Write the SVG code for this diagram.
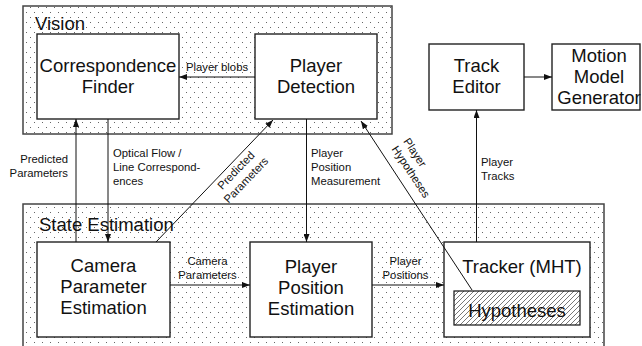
<svg xmlns="http://www.w3.org/2000/svg" width="642" height="346" viewBox="0 0 642 346">
  <defs>
    <!-- stippled fill for the two subsystem frames -->
    <pattern id="dots" width="8" height="10" patternUnits="userSpaceOnUse">
      <rect x="2" y="2" width="1" height="1" fill="#666"/>
      <rect x="6" y="7" width="1" height="1" fill="#666"/>
    </pattern>
    <!-- diagonal hatching for the hypotheses store -->
    <pattern id="hatch" width="5" height="5" patternUnits="userSpaceOnUse">
      <rect width="5" height="5" fill="#fff"/>
      <path d="M-1,1 L1,-1 M0,5 L5,0 M4,6 L6,4" stroke="#555" stroke-width="0.8"/>
    </pattern>
    <marker id="arrow" markerWidth="8" markerHeight="6" refX="8" refY="3" orient="auto" markerUnits="userSpaceOnUse">
      <path d="M0,0 L8,3 L0,6 z" fill="#111"/>
    </marker>
    <style>
      .frame { fill: url(#dots); stroke: #444; stroke-width: 1.5; }
      .box { fill: #fff; stroke: #222; stroke-width: 1.4; }
      .big { font-family: "Liberation Sans", Arial, sans-serif; font-size: 18.5px; fill: #111; }
      .mid { text-anchor: middle; }
      .small { font-family: "Liberation Sans", Arial, sans-serif; font-size: 11.3px; fill: #111; }
      .end { text-anchor: end; }
      .conn { stroke: #111; stroke-width: 1; fill: none; }
      .arr { marker-end: url(#arrow); }
    </style>
  </defs>

  <rect width="642" height="346" fill="#fff"/>

  <!-- subsystem frames -->
  <g id="vision">
    <rect class="frame" x="23" y="6" width="369" height="128"/>
    <text class="big" x="35" y="30">Vision</text>
  </g>
  <g id="state-estimation">
    <rect class="frame" x="23" y="204" width="581" height="160"/>
    <text class="big" x="39" y="231">State Estimation</text>
  </g>

  <!-- nodes -->
  <g id="correspondence-finder">
    <rect class="box" x="37" y="34" width="142" height="85"/>
    <text class="big mid" x="108" y="72">Correspondence</text>
    <text class="big mid" x="108" y="93">Finder</text>
  </g>
  <g id="player-detection">
    <rect class="box" x="255" y="34" width="122" height="85"/>
    <text class="big mid" x="316" y="72">Player</text>
    <text class="big mid" x="316" y="93">Detection</text>
  </g>
  <g id="track-editor">
    <rect class="box" x="429" y="44" width="95" height="66"/>
    <text class="big mid" x="476.5" y="72">Track</text>
    <text class="big mid" x="476.5" y="93">Editor</text>
  </g>
  <g id="motion-model-generator">
    <rect class="box" x="552" y="44" width="88" height="66"/>
    <text class="big mid" x="599" y="62">Motion</text>
    <text class="big mid" x="599" y="83">Model</text>
    <text class="big mid" x="599" y="104">Generator</text>
  </g>
  <g id="camera-parameter-estimation">
    <rect class="box" x="37" y="242" width="133" height="95"/>
    <text class="big mid" x="103.5" y="272">Camera</text>
    <text class="big mid" x="103.5" y="293">Parameter</text>
    <text class="big mid" x="103.5" y="314">Estimation</text>
  </g>
  <g id="player-position-estimation">
    <rect class="box" x="250" y="242" width="122" height="95"/>
    <text class="big mid" x="311" y="273">Player</text>
    <text class="big mid" x="311" y="294">Position</text>
    <text class="big mid" x="311" y="315">Estimation</text>
  </g>
  <g id="tracker">
    <rect class="box" x="444" y="242" width="146" height="95"/>
    <text class="big mid" x="522" y="273">Tracker (MHT)</text>
  </g>
  <g id="hypotheses">
    <rect x="454" y="291" width="126" height="34" fill="url(#hatch)" stroke="#111" stroke-width="1.2"/>
    <text class="big mid" x="517" y="317">Hypotheses</text>
  </g>

  <!-- connectors -->
  <g id="connectors">
    <path class="conn arr" d="M255,77 L179,77"/>
    <path class="conn arr" d="M76,242 L76,119"/>
    <path class="conn arr" d="M108,119 L108,242"/>
    <path class="conn arr" d="M156,242 L273,120"/>
    <path class="conn arr" d="M306.5,119 L306.5,242"/>
    <path class="conn arr" d="M472,290 L361,121"/>
    <path class="conn arr" d="M476.5,242 L476.5,110"/>
    <path class="conn arr" d="M524,77 L552,77"/>
    <path class="conn arr" d="M170,285 L250,285"/>
    <path class="conn arr" d="M372,285 L444,285"/>

    <text class="small mid" x="217" y="71">Player blobs</text>

    <text class="small end" x="68" y="163">Predicted</text>
    <text class="small end" x="68" y="177">Parameters</text>

    <text class="small" x="113" y="157">Optical Flow /</text>
    <text class="small" x="113" y="171">Line Correspond-</text>
    <text class="small" x="113" y="185">ences</text>

    <g transform="translate(156,242) rotate(-46.2)">
      <text class="small mid" x="107" y="12">Predicted</text>
      <text class="small mid" x="107" y="26">Parameters</text>
    </g>

    <text class="small" x="311" y="157">Player</text>
    <text class="small" x="311" y="171">Position</text>
    <text class="small" x="311" y="185">Measurement</text>

    <g transform="translate(361,121) rotate(56.7)">
      <text class="small" x="40" y="-24">Player</text>
      <text class="small" x="40" y="-10">Hypotheses</text>
    </g>

    <text class="small" x="481" y="166">Player</text>
    <text class="small" x="481" y="180">Tracks</text>

    <text class="small mid" x="207.5" y="265">Camera</text>
    <text class="small mid" x="207.5" y="279">Parameters</text>

    <text class="small mid" x="405.5" y="265">Player</text>
    <text class="small mid" x="405.5" y="279">Positions</text>
  </g>
</svg>
